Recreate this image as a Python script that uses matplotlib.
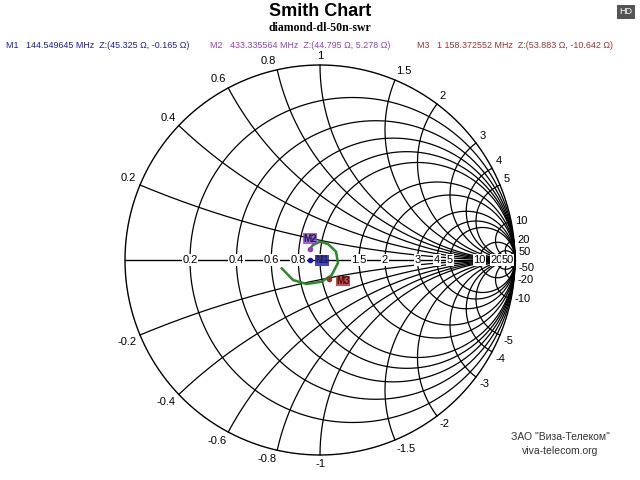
import numpy as np
import matplotlib
matplotlib.use("Agg")
import matplotlib.pyplot as plt

plt.rcParams['font.family'] = ['Liberation Sans', 'DejaVu Sans']

r_vals = [0.2, 0.4, 0.6, 0.8, 1, 1.5, 2, 3, 4, 5, 10, 20, 50]
x_vals = [0.2, 0.4, 0.6, 0.8, 1, 1.5, 2, 3, 4, 5, 10, 20, 50]
r_labels = ["0.2", "0.4", "0.6", "0.8", "1", "1.5", "2", "3", "4", "5", "10", "20", "50"]
x_labels = ["0.2", "0.4", "0.6", "0.8", "1", "1.5", "2", "3", "4", "5", "10", "20", "50"]
# trace (reflection coefficient, re / im)
trace_re = [-0.196, -0.138, -0.068, 0.009, 0.060, 0.092, 0.082, 0.041, 0.000, -0.036, -0.056]
trace_im = [-0.043, -0.103, -0.123, -0.111, -0.077, -0.015, 0.043, 0.082, 0.094, 0.077, 0.051]
markers = ["M1", "M2", "M3"]
marker_freq = ["144.549645 MHz", "433.335564 MHz", "1 158.372552 MHz"]
marker_R = [45.325, 44.795, 53.883]
marker_X = [-0.165, 5.278, -10.642]
marker_colors = ["#1a1aa8", "#9040c0", "#a03030"]
Z0 = 50.0

fig = plt.figure(figsize=(6.4, 4.8), dpi=100)
ax = fig.add_axes([0, 0, 1, 1])
R = 195.0
ax.set_xlim(-320 / R, 320 / R)
ax.set_ylim(-220 / R, 260 / R)
ax.axis("off")

t = np.linspace(0, 2 * np.pi, 721)
lw = 0.9
ax.plot(np.cos(t), np.sin(t), color="black", lw=1.0)
ax.plot([-1, 1], [0, 0], color="black", lw=1.0)
for r in r_vals:
    c = r / (1 + r); rad = 1 / (1 + r)
    ax.plot(c + rad * np.cos(t), rad * np.sin(t), color="black", lw=lw)
rr = np.concatenate([np.linspace(0, 5, 400), np.logspace(np.log10(5), 4, 400)])
for x in x_vals:
    for s in (1, -1):
        zz = rr + 1j * s * x
        g = (zz - 1) / (zz + 1)
        ax.plot(g.real, g.imag, color="black", lw=lw)

for r, lab in zip(r_vals, r_labels):
    g = (r - 1) / (r + 1)
    ax.text(g, 0, lab, ha="center", va="center", fontsize=8,
            bbox=dict(facecolor="white", edgecolor="none", pad=0.5))
for x, lab in zip(x_vals, x_labels):
    a = np.pi - 2 * np.arctan(x)
    rl = 1.02
    cx, sy = np.cos(a), np.sin(a)
    ha = "center" if abs(cx) < 0.15 else ("right" if cx < 0 else "left")
    ax.text(rl * cx, rl * sy, lab, ha=ha, va="bottom" if sy > 0.3 else "center", fontsize=8)
    ax.text(rl * cx, -rl * sy, "-" + lab, ha=ha, va="top" if sy > 0.3 else "center", fontsize=8)

ax.plot(trace_re, trace_im, color="#2a8a2a", lw=1.8)
offs = [(0.06, 0.0), (-0.0, 0.05), (0.07, -0.01)]
for m, Rz, Xz, col, o in zip(markers, marker_R, marker_X, marker_colors, offs):
    z = complex(Rz, Xz) / Z0
    g = (z - 1) / (z + 1)
    ax.plot(g.real, g.imag, "o", ms=3, color=col)
    ax.text(g.real + o[0], g.imag + o[1], m, fontsize=7, color="#202060" if m != "M3" else "#600000",
            fontweight="bold", ha="center", va="center",
            bbox=dict(facecolor=col, edgecolor="none", pad=0.3, alpha=0.8))

fig.text(0.5, 1 - 11 / 480, "Smith Chart", ha="center", va="center", fontsize=13, fontweight="bold")
fig.text(0.5, 1 - 28 / 480, "diamond-dl-50n-swr", ha="center", va="center", fontsize=8.5,
         fontweight="bold", family="Liberation Serif")
xs = [6, 210, 417]
for xp, m, f, Rz, Xz, col in zip(xs, markers, marker_freq, marker_R, marker_X, marker_colors):
    fig.text(xp / 640, 1 - 46 / 480,
             f"{m}   {f}  Z:({Rz:.3f} Ω, {Xz:.3f} Ω)", color=col, fontsize=6.4, va="center")
fig.text(626 / 640, 1 - 12 / 480, "HD", fontsize=6.5, color="white", ha="center", va="center",
         bbox=dict(facecolor="#555555", edgecolor="none", pad=1.5))
fig.text(560 / 640, 1 - 440 / 480, 'ЗАО "Виза-Телеком"', fontsize=7.5, color="#333333", ha="center")
fig.text(560 / 640, 1 - 454 / 480, "viva-telecom.org", fontsize=7.5, color="#333333", ha="center")
fig.savefig("out.png", dpi=100, facecolor="white")
